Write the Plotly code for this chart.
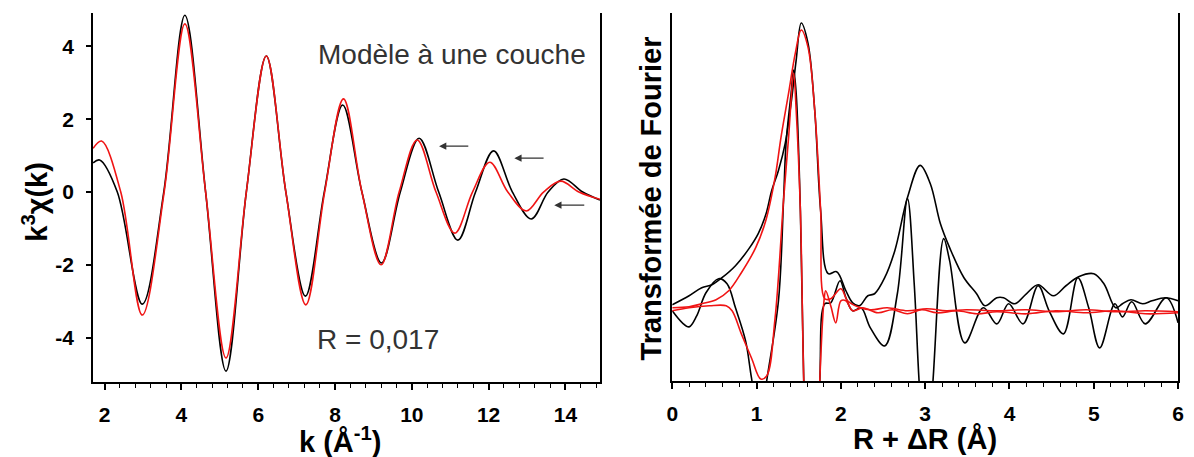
import plotly.graph_objects as go

# ---------------- Left panel: k^3 chi(k) ----------------
k_exp = [1.70, 1.87, 2.33, 2.98, 3.54, 4.09, 4.63, 5.16, 5.69, 6.21, 6.72, 7.23, 7.72,
         8.20, 8.70, 9.21, 9.70, 10.19, 10.70, 11.20, 11.66, 12.13, 12.62, 13.11, 13.55,
         13.96, 14.45, 14.90]
chi_exp = [0.80, 0.88, 0.00, -3.08, 0.00, 4.86, 0.00, -4.92, 0.00, 3.74, 0.00, -2.86, 0.00,
           2.39, 0.00, -1.95, 0.00, 1.48, 0.00, -1.32, 0.00, 1.13, 0.00, -0.74, 0.00,
           0.36, 0.00, -0.22]

k_fit = [1.70, 1.92, 2.42, 2.98, 3.55, 4.09, 4.63, 5.16, 5.69, 6.21, 6.72, 7.24, 7.73,
         8.22, 8.70, 9.20, 9.67, 10.14, 10.63, 11.12, 11.58, 12.03, 12.50, 12.98, 13.43,
         13.88, 14.35, 14.90]
chi_fit = [1.20, 1.40, 0.00, -3.38, 0.00, 4.62, 0.00, -4.56, 0.00, 3.74, 0.00, -3.10, 0.00,
           2.56, 0.00, -2.00, 0.00, 1.43, 0.00, -1.13, 0.00, 0.82, 0.00, -0.52, 0.00,
           0.30, 0.00, -0.20]

k_ticks = [2, 4, 6, 8, 10, 12, 14]
chi_ticks = [-4, -2, 0, 2, 4]
chi_ticklabels = ["-4", "-2", "0", "2", "4"]

# ---------------- Right panel: Fourier transform (arb. units) ----------------
R_mag_exp = [0.00, 0.20, 0.35, 0.47, 0.59, 0.75, 0.91, 1.02, 1.11, 1.18, 1.26, 1.34, 1.41,
             1.47, 1.53, 1.61, 1.69, 1.76, 1.85, 1.95, 2.06, 2.14, 2.22, 2.32, 2.40, 2.52,
             2.64, 2.79, 2.94, 3.06, 3.18, 3.29, 3.46, 3.61, 3.71, 3.85, 3.93, 4.06, 4.20,
             4.34, 4.52, 4.67, 4.82, 5.00, 5.12, 5.26, 5.34, 5.44, 5.58, 5.69, 5.85, 6.00]
mag_exp = [6, 15, 23, 26, 33, 45, 62, 77, 96, 120, 140, 167, 207,
           250, 287, 267, 200, 100, 37, 39, 20, 8, 5, 15, 17, 33,
           60, 113, 145, 127, 87, 63, 33, 17, 5, 13, 13, 7, 17,
           26, 15, 25, 34, 37, 27, 3, 7, 11, 7, 10, 13, 10]

R_im_exp = [0.00, 0.12, 0.20, 0.29, 0.40, 0.55, 0.65, 0.75, 0.87, 0.94, 1.04, 1.12, 1.26,
            1.32, 1.35, 1.41, 1.44, 1.47, 1.52, 1.56, 1.66, 1.75, 1.81, 1.88, 1.99, 2.06,
            2.14, 2.24, 2.35, 2.52, 2.67, 2.79, 2.87, 2.93, 3.01, 3.09, 3.22, 3.29, 3.47,
            3.69, 3.85, 3.99, 4.16, 4.34, 4.47, 4.64, 4.81, 4.94, 5.07, 5.25, 5.34, 5.45,
            5.61, 5.86, 6.00]
im_exp = [0, -12, -16, -5, 18, 32, 27, 3, -30, -67, -115, -70, 10,
          110, 167, 217, 240, 217, 100, -70, -330, -70, 7, 8, 30, 13,
          0, 3, -17, -35, 17, 112, 27, -73, -160, -73, 72, 50, -32,
          3, -13, 7, -13, 25, 0, -23, 33, 3, -37, 7, -6, 9,
          -13, 13, -12]

R_mag_fit = [0.00, 0.20, 0.35, 0.52, 0.67, 0.82, 0.99, 1.11, 1.22, 1.29, 1.38, 1.46, 1.53,
             1.61, 1.69, 1.76, 1.81, 1.88, 2.00, 2.08, 2.20, 2.35, 2.55, 2.79, 3.02, 3.25,
             3.49, 3.85, 4.20, 4.55, 4.91, 5.26, 5.61, 6.00]
mag_fit = [3, 4, 7, 11, 20, 38, 63, 90, 133, 173, 217, 257, 280,
           263, 200, 100, 12, 12, 22, 10, 4, 1, 3, 0, 2, 0,
           1, 0, 1, -1, 1, -1, 0, -1]

R_im_fit = [0.00, 0.20, 0.44, 0.64, 0.71, 0.82, 0.94, 1.05, 1.12, 1.22, 1.32, 1.38, 1.44,
            1.47, 1.52, 1.56, 1.66, 1.75, 1.80, 1.82, 1.88, 1.94, 2.00, 2.06, 2.14, 2.26,
            2.44, 2.61, 2.79, 2.96, 3.14, 3.38, 3.61, 3.85, 4.20, 4.55, 4.91, 5.26, 5.61, 6.00]
im_fit = [0, 3, 5, 5, 0, -23, -47, -68, -65, -7, 110, 173, 237,
          200, 100, -70, -340, -70, 10, 20, 5, -12, 10, 10, 0, 3,
          -2, 1, -3, 1, -2, 0, -3, -1, -3, 0, -2, 0, -3, -2]

R_ticks = [0, 1, 2, 3, 4, 5, 6]

BLACK = "#000000"
RED = "#f01414"
FONT = "Liberation Sans, Arial, sans-serif"

fig = go.Figure()

line_kw = dict(shape="spline", smoothing=1.0, width=1.6)

fig.add_trace(go.Scatter(x=k_exp, y=chi_exp, mode="lines", xaxis="x", yaxis="y",
                         line=dict(color=BLACK, **line_kw), showlegend=False))
fig.add_trace(go.Scatter(x=k_fit, y=chi_fit, mode="lines", xaxis="x", yaxis="y",
                         line=dict(color=RED, **line_kw), showlegend=False))

fig.add_trace(go.Scatter(x=R_mag_exp, y=mag_exp, mode="lines", xaxis="x2", yaxis="y2",
                         line=dict(color=BLACK, **line_kw), showlegend=False))
fig.add_trace(go.Scatter(x=R_im_exp, y=im_exp, mode="lines", xaxis="x2", yaxis="y2",
                         line=dict(color=BLACK, **line_kw), showlegend=False))
fig.add_trace(go.Scatter(x=R_mag_fit, y=mag_fit, mode="lines", xaxis="x2", yaxis="y2",
                         line=dict(color=RED, **line_kw), showlegend=False))
fig.add_trace(go.Scatter(x=R_im_fit, y=im_fit, mode="lines", xaxis="x2", yaxis="y2",
                         line=dict(color=RED, **line_kw), showlegend=False))

W, H = 1194, 457
def fx(px):
    return px / W
def fy(py):
    return 1 - py / H

tickfont = dict(family=FONT, size=21, color="#000000", weight="bold")

fig.update_layout(
    width=W, height=H,
    margin=dict(l=0, r=0, t=0, b=0),
    paper_bgcolor="white", plot_bgcolor="white",
    font=dict(family=FONT, color="#000000"),
    hovermode=False,
    xaxis=dict(domain=[fx(88), fx(600)], range=[1.7, 14.9], anchor="y",
               tickmode="array", tickvals=k_ticks,
               ticks="outside", ticklen=6, tickwidth=1.5, tickcolor="black",
               minor=dict(dtick=0.4, tick0=2, ticks="outside", ticklen=4, tickwidth=1.2,
                          tickcolor="black", showgrid=False),
               showline=True, linecolor="black", linewidth=2, mirror=False,
               showgrid=False, zeroline=False, tickfont=tickfont, ticklabelstandoff=7),
    yaxis=dict(domain=[fy(382), fy(13)], range=[-5.22, 4.92], anchor="x",
               tickmode="array", tickvals=chi_ticks, ticktext=chi_ticklabels,
               ticks="outside", ticklen=5, tickwidth=1.5, tickcolor="black",
               showline=True, linecolor="black", linewidth=2, mirror=True,
               showgrid=False, zeroline=False, tickfont=tickfont, ticklabelstandoff=8),
    xaxis2=dict(domain=[fx(673), fx(1184)], range=[0, 6], anchor="y2",
                tickmode="array", tickvals=R_ticks,
                ticks="outside", ticklen=6, tickwidth=1.5, tickcolor="black",
                minor=dict(dtick=0.2, tick0=0, ticks="outside", ticklen=4, tickwidth=1.2,
                           tickcolor="black", showgrid=False),
                showline=True, linecolor="black", linewidth=2, mirror=False,
                showgrid=False, zeroline=False, tickfont=tickfont, ticklabelstandoff=7),
    yaxis2=dict(domain=[fy(381), fy(13)], range=[-70, 297], anchor="x2",
                showticklabels=False, ticks="",
                showline=True, linecolor="black", linewidth=2, mirror=True,
                showgrid=False, zeroline=False),
)

title_font = dict(family=FONT, size=29, color="#000000")
ann = []
ann.append(dict(xref="paper", yref="paper", x=fx(29), y=fy(202), text="<b>k<sup>3</sup>χ(k)</b>",
                textangle=-90, showarrow=False, font=title_font, xanchor="center", yanchor="middle"))
ann.append(dict(xref="paper", yref="paper", x=fx(338), y=fy(440), text="<b>k (Å<sup>-1</sup>)</b>",
                showarrow=False, font=title_font, xanchor="center", yanchor="middle"))
ann.append(dict(xref="paper", yref="paper", x=fx(652), y=fy(198), text="<b>Transformée de Fourier</b>",
                textangle=-90, showarrow=False, font=title_font, xanchor="center", yanchor="middle"))
ann.append(dict(xref="paper", yref="paper", x=fx(928), y=fy(439), text="<b>R + ΔR (Å)</b>",
                showarrow=False, font=title_font, xanchor="center", yanchor="middle"))

label_font = dict(family=FONT, size=28, color="#333333")
ann.append(dict(xref="paper", yref="paper", x=fx(451), y=fy(54), text="Modèle à une couche",
                showarrow=False, font=label_font, xanchor="center", yanchor="middle"))
ann.append(dict(xref="paper", yref="paper", x=fx(376), y=fy(339), text="R = 0,017",
                showarrow=False, font=label_font, xanchor="center", yanchor="middle"))

# arrows (tail -> head) in data coordinates of the left panel
arrows = [((11.51, 1.26), (10.71, 1.26)),
          ((13.47, 0.93), (12.67, 0.93)),
          ((14.53, -0.36), (13.71, -0.36))]
for (tx, ty), (hx, hy) in arrows:
    ann.append(dict(xref="x", yref="y", axref="x", ayref="y", x=hx, y=hy, ax=tx, ay=ty,
                    text="", showarrow=True, arrowhead=2, arrowsize=1.2, arrowwidth=1.2,
                    arrowcolor="#333333"))

fig.update_layout(annotations=ann)

fig.write_html("out.html", config={"displayModeBar": False},
               post_script="document.body.style.margin='0';document.body.style.overflow='hidden';")
